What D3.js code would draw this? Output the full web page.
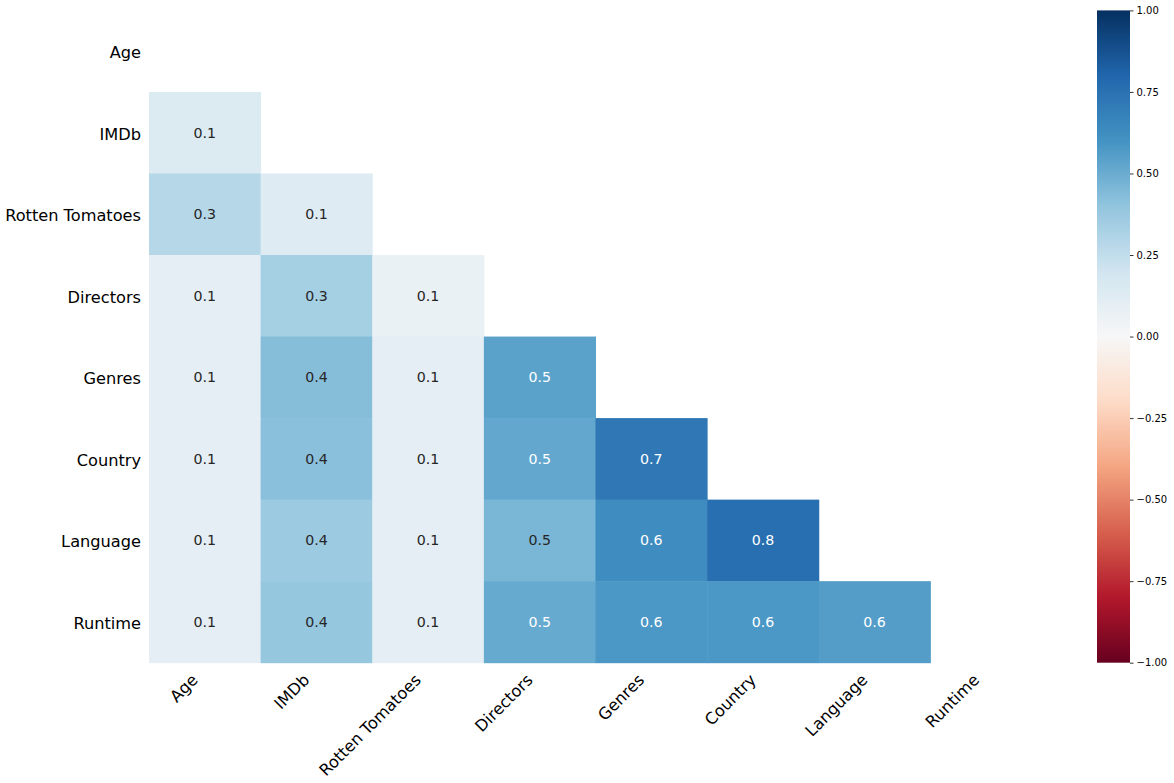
<!DOCTYPE html>
<html>
<head>
<meta charset="utf-8">
<script src="https://cdn.jsdelivr.net/npm/d3@7"></script>
<style>
  body { margin: 0; background: #fff; }
  svg { display: block; font-family: "DejaVu Sans", sans-serif; }
</style>
</head>
<body>
<svg id="chart" width="1174" height="783"></svg>
<script>
const labels = ["Age", "IMDb", "Rotten Tomatoes", "Directors", "Genres", "Country", "Language", "Runtime"]

// lower triangle of the nullity correlation, row by row
const corr = [
  [],
  [0.14],
  [0.29, 0.13],
  [0.10, 0.34, 0.07],
  [0.10, 0.43, 0.10, 0.54],
  [0.10, 0.42, 0.10, 0.52, 0.72],
  [0.10, 0.37, 0.10, 0.46, 0.63, 0.76],
  [0.10, 0.39, 0.10, 0.51, 0.58, 0.58, 0.56]
]

const cbarTicks = [-1, -0.75, -0.5, -0.25, 0, 0.25, 0.5, 0.75, 1]

// RdBu as matplotlib builds it (linear between the brewer colours)
const rdbu = ["#67001f", "#b2182b", "#d6604d", "#f4a582", "#fddbc7", "#f7f7f7",
              "#d1e5f0", "#92c5de", "#4393c3", "#2166ac", "#053061"]

function draw () {
  const svg = d3.select('#chart')
  const left = 149, top = 10.4, right = 1042, bottom = 662.7

  const cells = []
  corr.forEach((row, i) => row.forEach((v, j) => cells.push({ row: labels[i], col: labels[j], v })))

  const xScale = d3.scaleBand().domain(labels).range([left, right])
  const yScale = d3.scaleBand().domain(labels).range([top, bottom])
  const color = d3.scaleLinear()
    .domain(d3.range(11).map(i => -1 + i * 0.2))
    .range(rdbu)
    .interpolate(d3.interpolateRgb)
    .clamp(true)

  // seaborn picks the annotation colour from the cell luminance
  const textColor = v => {
    const c = d3.rgb(color(v))
    const lin = x => { x /= 255; return x <= 0.03928 ? x / 12.92 : Math.pow((x + 0.055) / 1.055, 2.4) }
    const lum = 0.2126 * lin(c.r) + 0.7152 * lin(c.g) + 0.0722 * lin(c.b)
    return lum > 0.408 ? "#262626" : "#ffffff"
  }

  svg.append('g')
    .selectAll('rect')
    .data(cells)
    .join('rect')
    .attr('x', d => xScale(d.col))
    .attr('y', d => yScale(d.row))
    .attr('width', xScale.bandwidth() + 0.5)
    .attr('height', yScale.bandwidth() + 0.5)
    .attr('fill', d => color(d.v))

  svg.append('g')
    .selectAll('text')
    .data(cells)
    .join('text')
    .attr('x', d => xScale(d.col) + xScale.bandwidth() / 2)
    .attr('y', d => yScale(d.row) + yScale.bandwidth() / 2 + 5)
    .attr('text-anchor', 'middle')
    .attr('font-size', 14.2)
    .attr('fill', d => textColor(d.v))
    .text(d => d3.format(".1f")(d.v))

  // row labels
  svg.append('g')
    .selectAll('text')
    .data(labels)
    .join('text')
    .attr('x', 141)
    .attr('y', d => yScale(d) + yScale.bandwidth() / 2 + 7)
    .attr('text-anchor', 'end')
    .attr('font-size', 16.2)
    .attr('fill', '#000')
    .text(d => d)

  // column labels, rotated 45
  svg.append('g')
    .selectAll('text')
    .data(labels)
    .join('text')
    .attr('transform', d => `translate(${xScale(d) + xScale.bandwidth() / 2 - 6}, 681) rotate(-45)`)
    .attr('text-anchor', 'end')
    .attr('font-size', 16.2)
    .attr('fill', '#000')
    .text(d => d)

  // colorbar
  const cbX = 1097, cbW = 33
  const cScale = d3.scaleLinear().domain([-1, 1]).range([bottom, top])
  const grad = svg.append('defs').append('linearGradient')
    .attr('id', 'cbar')
    .attr('x1', 0).attr('y1', 1).attr('x2', 0).attr('y2', 0)
  grad.selectAll('stop')
    .data(d3.range(0, 1.0001, 0.02))
    .join('stop')
    .attr('offset', d => d)
    .attr('stop-color', d => color(-1 + 2 * d))
  svg.append('rect')
    .attr('x', cbX)
    .attr('y', top)
    .attr('width', cbW)
    .attr('height', bottom - top)
    .attr('fill', 'url(#cbar)')

  const cAxis = svg.append('g')
    .attr('transform', `translate(${cbX + cbW}, 0)`)
    .call(d3.axisRight(cScale).tickValues(cbarTicks).tickSize(3.5).tickPadding(3).tickFormat(d3.format(".2f")))
  cAxis.select('.domain').remove()
  cAxis.selectAll('text').attr('font-size', 10).attr('fill', '#000').attr('font-family', '"DejaVu Sans", sans-serif')
  cAxis.selectAll('line').attr('stroke', '#000').attr('stroke-width', 0.8)
}

draw()
</script>
</body>
</html>
